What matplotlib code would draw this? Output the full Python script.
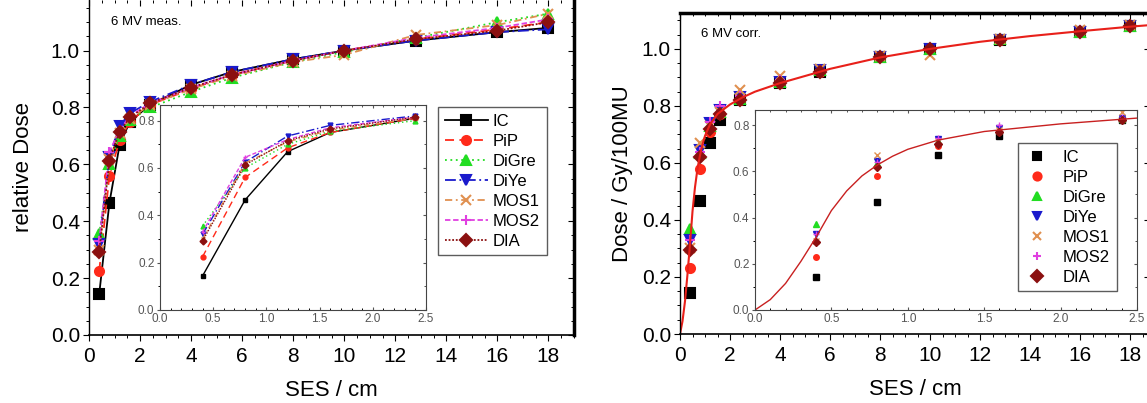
"""
6 MV depth dose near surface: measured (left) vs corrected (right) for seven detectors.
"""

import matplotlib

matplotlib.use("Agg")
import matplotlib.pyplot as plt
from matplotlib.ticker import MultipleLocator

plt.rcParams["font.family"] = ["Liberation Sans", "DejaVu Sans"]

SES = [0.4, 0.8, 1.2, 1.6, 2.4, 4.0, 5.6, 8.0, 10.0, 12.8, 16.0, 18.0]

DETECTORS = ["IC", "PiP", "DiGre", "DiYe", "MOS1", "MOS2", "DIA"]

# measured relative dose (left panel)
MEAS = {
    "IC": [0.144, 0.465, 0.669, 0.75, 0.81, 0.88, 0.925, 0.97, 1.0, 1.035, 1.065, 1.08],
    "PiP": [0.225, 0.56, 0.685, 0.75, 0.81, 0.865, 0.915, 0.965, 1.0, 1.04, 1.075, 1.10],
    "DiGre": [0.355, 0.60, 0.70, 0.755, 0.80, 0.855, 0.905, 0.96, 0.995, 1.045, 1.10, 1.13],
    "DiYe": [0.32, 0.625, 0.735, 0.78, 0.82, 0.88, 0.925, 0.97, 1.0, 1.035, 1.065, 1.075],
    "MOS1": [0.30, 0.62, 0.71, 0.76, 0.81, 0.865, 0.91, 0.96, 0.985, 1.055, 1.09, 1.13],
    "MOS2": [0.33, 0.645, 0.72, 0.77, 0.815, 0.87, 0.915, 0.965, 1.0, 1.045, 1.08, 1.11],
    "DIA": [0.292, 0.613, 0.715, 0.765, 0.815, 0.87, 0.915, 0.965, 1.0, 1.04, 1.07, 1.10],
}

# corrected dose in Gy/100MU (right panel)
CORR = {
    "IC": [0.144, 0.466, 0.67, 0.752, 0.82, 0.88, 0.92, 0.97, 1.0, 1.03, 1.06, 1.08],
    "PiP": [0.23, 0.58, 0.71, 0.77, 0.82, 0.88, 0.92, 0.97, 1.0, 1.03, 1.06, 1.08],
    "DiGre": [0.37, 0.635, 0.73, 0.78, 0.825, 0.885, 0.925, 0.97, 1.0, 1.035, 1.06, 1.08],
    "DiYe": [0.33, 0.645, 0.74, 0.785, 0.83, 0.885, 0.925, 0.97, 1.0, 1.03, 1.06, 1.08],
    "MOS1": [0.30, 0.67, 0.73, 0.78, 0.855, 0.905, 0.93, 0.975, 0.98, 1.035, 1.065, 1.085],
    "MOS2": [0.33, 0.64, 0.745, 0.80, 0.835, 0.89, 0.925, 0.97, 1.0, 1.035, 1.065, 1.085],
    "DIA": [0.295, 0.62, 0.72, 0.77, 0.82, 0.88, 0.92, 0.97, 1.0, 1.03, 1.06, 1.08],
}

# fitted curve
FIT_X = [0, 0.1, 0.2, 0.3, 0.4, 0.5, 0.6, 0.7, 0.8, 0.9, 1.0, 1.2, 1.5, 2.0, 2.5, 3.0,
         4.0, 6.0, 8.0, 10.0, 12.0, 14.0, 16.0, 18.0, 19.0]
FIT_Y = [0, 0.045, 0.115, 0.21, 0.315, 0.43, 0.515, 0.58, 0.627, 0.665, 0.695, 0.735,
         0.772, 0.805, 0.83, 0.85, 0.88, 0.93, 0.97, 1.0, 1.025, 1.045, 1.062, 1.078, 1.085]

STYLE = {
    "IC": dict(color="#000000", marker="s", ls="-"),
    "PiP": dict(color="#ff2a1a", marker="o", ls=(0, (5, 3))),
    "DiGre": dict(color="#22dd22", marker="^", ls=(0, (1, 2))),
    "DiYe": dict(color="#1a1acc", marker="v", ls=(0, (6, 2, 1, 2))),
    "MOS1": dict(color="#e09050", marker="x", ls=(0, (4, 2, 1, 2))),
    "MOS2": dict(color="#e040e0", marker="+", ls=(0, (3, 1.5))),
    "DIA": dict(color="#8b1010", marker="D", ls=(0, (1, 1))),
}

W, H = 1147, 403


def box(x0, y0, x1, y1):
    # pixel box -> figure fraction rect
    return [x0 / W, 1 - y1 / H, (x1 - x0) / W, (y1 - y0) / H]


def style_axes(ax, xmaj, xmin, ymaj, ymin, size, inset=False):
    ax.xaxis.set_major_locator(MultipleLocator(xmaj))
    ax.xaxis.set_minor_locator(MultipleLocator(xmin))
    ax.yaxis.set_major_locator(MultipleLocator(ymaj))
    ax.yaxis.set_minor_locator(MultipleLocator(ymin))
    big = 2.0 if inset else 4.5
    xdir = "in" if inset else "out"
    ax.tick_params(axis="x", which="both", direction=xdir, labelsize=size,
                   pad=2 if inset else 4)
    ax.tick_params(axis="y", which="both", direction="out", labelsize=size, pad=2)
    ax.tick_params(which="major", length=big, width=0.8)
    ax.tick_params(which="minor", length=big * 0.55, width=0.7)
    if inset:
        ax.tick_params(labelcolor="#555555", colors="#555555")
        for sp in ax.spines.values():
            sp.set_color("#444444")
            sp.set_linewidth(0.8)
    else:
        ax.spines["left"].set_linewidth(1.0)
        ax.spines["bottom"].set_linewidth(1.2)
        ax.spines["right"].set_linewidth(2.5)
        ax.spines["top"].set_linewidth(2.5)

    top = ax.secondary_xaxis("top")
    right = ax.secondary_yaxis("right")
    for sec, loc_maj, loc_min in ((top.xaxis, xmaj, xmin), (right.yaxis, ymaj, ymin)):
        sec.set_major_locator(MultipleLocator(loc_maj))
        sec.set_minor_locator(MultipleLocator(loc_min))
    for sec in (top, right):
        sec.tick_params(which="both", direction="in", labelleft=False, labelright=False,
                        labeltop=False, labelbottom=False,
                        colors="#555555" if inset else "black")
        sec.tick_params(which="major", length=big, width=0.8)
        sec.tick_params(which="minor", length=big * 0.55, width=0.7)
        for sp in sec.spines.values():
            sp.set_visible(False)


def plot_measured(fig):
    ax = fig.add_axes(box(89, 0, 574, 335))
    ax.set_xlim(0, 19.0)
    ax.set_ylim(0, 1.178)
    for name in DETECTORS:
        st = STYLE[name]
        ax.plot(SES, MEAS[name], color=st["color"], ls=st["ls"], lw=1.3,
                marker=st["marker"], ms=6.5, mew=1.5, label=name)
    style_axes(ax, 2, 0.5, 0.2, 0.05, 15)
    ax.spines["top"].set_visible(False)
    ax.set_xlabel("SES / cm", fontsize=16, labelpad=10)
    ax.set_ylabel("relative Dose", fontsize=16, labelpad=12)
    ax.text(0.045, 0.925, "6 MV meas.", transform=ax.transAxes, fontsize=9.5)

    ins = fig.add_axes(box(160, 105, 426, 310))
    ins.set_xlim(0, 2.5)
    ins.set_ylim(0, 0.866)
    for name in DETECTORS:
        st = STYLE[name]
        ins.plot(SES[:5], MEAS[name][:5], color=st["color"], ls=st["ls"], lw=1.0,
                 marker=st["marker"], ms=3.5, mew=1.0)
    style_axes(ins, 0.5, 0.1, 0.2, 0.1, 8.5, inset=True)

    handles, labels = ax.get_legend_handles_labels()
    fig.legend(handles, labels, loc="upper left", bbox_to_anchor=(438 / W, 1 - 107 / H),
               borderaxespad=0, fontsize=12, frameon=True, fancybox=False, edgecolor="#333333",
               handlelength=2.6, handletextpad=0.3, labelspacing=0.3, borderpad=0.4)


def plot_corrected(fig):
    ax = fig.add_axes(box(680, 13, 1150, 334))
    ax.set_xlim(0, 18.8)
    ax.set_ylim(0, 1.126)
    handles = []
    for name in DETECTORS:
        st = STYLE[name]
        h, = ax.plot(SES, CORR[name], ls="none", color=st["color"], marker=st["marker"],
                     ms=6.5, mew=1.5, label=name)
        handles.append(h)
    ax.plot(FIT_X, FIT_Y, color="#e8201a", lw=1.5)
    style_axes(ax, 2, 0.5, 0.2, 0.05, 15)
    ax.set_xlabel("SES / cm", fontsize=16, labelpad=10)
    ax.set_ylabel("Dose / Gy/100MU", fontsize=16, labelpad=6)
    ax.text(0.045, 0.925, "6 MV corr.", transform=ax.transAxes, fontsize=9.5)

    ins = fig.add_axes(box(755, 110, 1137, 310))
    ins.set_xlim(0, 2.5)
    ins.set_ylim(0, 0.865)
    for name in DETECTORS:
        st = STYLE[name]
        ins.plot(SES[:5], CORR[name][:5], ls="none", color=st["color"], marker=st["marker"],
                 ms=4, mew=1.0)
    ins.plot(FIT_X[:16], FIT_Y[:16], color="#c82020", lw=1.0)
    style_axes(ins, 0.5, 0.1, 0.2, 0.1, 8.5, inset=True)

    fig.legend(handles, DETECTORS, loc="upper left", bbox_to_anchor=(1018 / W, 1 - 143 / H),
               borderaxespad=0, fontsize=12, frameon=True, fancybox=False, edgecolor="#333333",
               handlelength=1.5, handletextpad=0.8, labelspacing=0.3, borderpad=0.4,
               markerscale=0.9)


def main():
    fig = plt.figure(figsize=(W / 100, H / 100), dpi=100)
    plot_measured(fig)
    plot_corrected(fig)
    fig.savefig("out.png", dpi=100)
    plt.close(fig)


if __name__ == "__main__":
    main()
